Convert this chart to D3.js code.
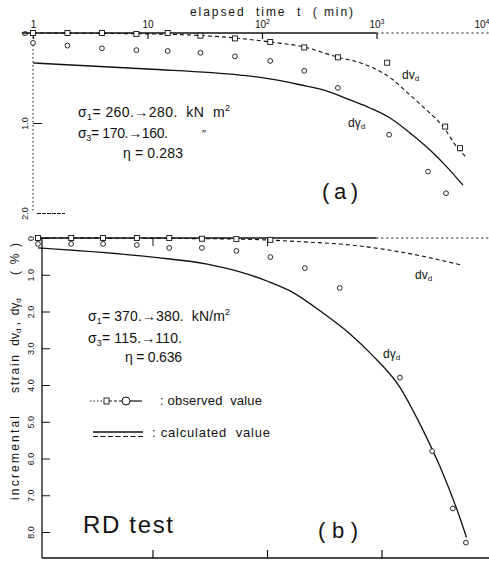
<!DOCTYPE html>
<html>
<head>
<meta charset="utf-8">
<script src="https://cdn.jsdelivr.net/npm/d3@7"></script>
<style>
  body { margin: 0; background: #fff; }
  svg { font-family: "Liberation Sans", Arial, sans-serif; }
  text { white-space: pre; fill: #111; }
</style>
</head>
<body>
<div id="chart"></div>
<script>
// ---- values (time in min, strain in %) ----

// panel (a)  sigma1 260 -> 280, sigma3 170 -> 160
var obsVolTimeA = [1, 2, 4, 8, 15, 29, 58, 118, 234, 460, 1240, 3980, 5370];
var obsVolA     = [0, 0, 0, 0.01, 0, 0.03, 0.06, 0.10, 0.16, 0.27, 0.33, 1.04, 1.28];
var obsShearTimeA = [1, 2, 4, 8, 15, 29, 58, 118, 234, 460, 1290, 2820, 4050];
var obsShearA     = [0.11, 0.14, 0.17, 0.19, 0.20, 0.22, 0.26, 0.31, 0.42, 0.61, 1.13, 1.54, 1.78];
var calcShearTimeA = [1, 10, 64, 100, 215, 393, 587, 878, 1312, 1963, 2933, 4128, 5690];
var calcShearA     = [0.333, 0.40, 0.467, 0.495, 0.575, 0.656, 0.744, 0.833, 0.944, 1.11, 1.30, 1.49, 1.69];
var calcVolTimeA = [1, 10, 58, 118, 234, 461, 720, 1393, 1963, 2763, 3810, 5050, 6170];
var calcVolA     = [0, 0.01, 0.055, 0.10, 0.155, 0.27, 0.33, 0.52, 0.69, 0.86, 1.04, 1.27, 1.39];

// panel (b)  sigma1 370 -> 380, sigma3 115 -> 110
var obsVolTimeB = [1, 1.95, 3.7, 7.3, 14, 27, 54, 107];
var obsVolB     = [0, 0, 0, 0, 0, 0.02, 0.03, 0.05];
var obsShearTimeB = [1, 1.95, 3.7, 7.3, 14, 27, 54, 107, 214, 432, 1450, 2770, 4200, 5460];
var obsShearB     = [0.16, 0.16, 0.16, 0.19, 0.27, 0.27, 0.35, 0.52, 0.82, 1.36, 3.80, 5.80, 7.36, 8.29];
var calcShearTimeB = [1, 10, 30, 58, 100, 159, 308, 531, 826, 1440, 2140, 3240, 4560, 5530];
var calcShearB     = [0.27, 0.52, 0.71, 0.92, 1.17, 1.44, 2.04, 2.61, 3.18, 4.05, 5.03, 6.22, 7.39, 8.15];
var calcVolTimeB = [1, 10, 58, 195, 530, 1660, 4870];
var calcVolB     = [0, 0.01, 0.03, 0.10, 0.19, 0.41, 0.73];

// tick labels
var timeTicks = [1, 10, 100, 1000, 10000];
var strainTicksA = [0, 1, 2];
var strainTicksB = [0, 1, 2, 3, 4, 5, 6, 7, 8];

var width = 489, height = 571;
var ink = "#111";

var svg = d3.select("#chart").append("svg")
    .attr("width", width)
    .attr("height", height);

// set the ranges: log time, about 114 px per decade
var xa = d3.scaleLog().domain([1, 1e4]).range([33, 491]);
var xb = d3.scaleLog().domain([1, 1e4]).range([38, 496]);
var ya = d3.scaleLinear().domain([0, 2]).range([33, 213]);
var yb = d3.scaleLinear().domain([0, 8]).range([238, 532]);

function lineFor(x, y) {
  return d3.line()
      .x(function(d) { return x(d[0]); })
      .y(function(d) { return y(d[1]); })
      .curve(d3.curveMonotoneX);
}

// ---------------- panel (a) axes ----------------
// top time axis, ticks pointing down
var topAxis = svg.append("g")
    .attr("transform", "translate(0,33)")
    .call(d3.axisTop(xa).tickValues(timeTicks).tickSize(-6).tickSizeOuter(0).tickPadding(5).tickFormat(""));
topAxis.select(".domain").remove();
topAxis.selectAll("line").attr("stroke", ink).attr("stroke-width", 1.2);
topAxis.selectAll("text")
    .attr("font-size", 10)
    .each(function(d) {
      var t = d3.select(this);
      var p = Math.round(Math.log10(d));
      if (p <= 1) { t.text(d); return; }
      t.append("tspan").text("10");
      t.append("tspan").attr("font-size", 7).attr("dy", -4).text(p);
      // last label sits against the right edge
      if (p === 4) t.attr("x", -2).style("text-anchor", "end");
    });

svg.append("line")
    .attr("x1", xa(0.8)).attr("x2", xa(1000))
    .attr("y1", ya(0)).attr("y2", ya(0))
    .attr("stroke", ink).attr("stroke-width", 1.3);
svg.append("line")
    .attr("x1", xa(1000)).attr("x2", xa(1e4))
    .attr("y1", ya(0)).attr("y2", ya(0))
    .attr("stroke", ink).attr("stroke-width", 1).attr("stroke-dasharray", "2,3");

// title of the time axis
svg.append("text")
    .attr("x", 190).attr("y", 16)
    .attr("font-size", 12)
    .attr("textLength", 163).attr("lengthAdjust", "spacing")
    .text("elapsed  time  t  ( min)");

// left strain axis of (a), dotted
svg.append("line")
    .attr("x1", xa(1)).attr("x2", xa(1))
    .attr("y1", ya(0)).attr("y2", ya(2))
    .attr("stroke", ink).attr("stroke-width", 1).attr("stroke-dasharray", "1.5,2.5");
var leftA = svg.append("g")
    .attr("transform", "translate(" + xa(1) + ",0)")
    .call(d3.axisLeft(ya).tickValues(strainTicksA).tickSize(-9).tickSizeOuter(0)
      .tickFormat(function(d) { return d === 0 ? "0" : d3.format(".1f")(d); }));
leftA.select(".domain").remove();
leftA.selectAll("line").attr("stroke", ink).attr("stroke-width", 1)
    .filter(function(d) { return d === 0; }).remove();
leftA.selectAll(".tick").filter(function(d) { return d === 2; }).select("line")
    .attr("x1", 4).attr("x2", 32).attr("stroke-dasharray", "4,1");
leftA.selectAll("text")
    .attr("font-size", 9)
    .attr("transform", "rotate(-90)")
    .attr("x", 0).attr("y", -5).attr("dy", 0)
    .style("text-anchor", "middle");

// ---------------- panel (a) marks ----------------
svg.append("path")
    .datum(d3.zip(calcVolTimeA, calcVolA))
    .attr("fill", "none").attr("stroke", ink).attr("stroke-width", 1.1)
    .attr("stroke-dasharray", "4,3")
    .attr("d", lineFor(xa, ya));
svg.append("path")
    .datum(d3.zip(calcShearTimeA, calcShearA))
    .attr("fill", "none").attr("stroke", ink).attr("stroke-width", 1.3)
    .attr("d", lineFor(xa, ya));

svg.selectAll(".sqA")
    .data(d3.zip(obsVolTimeA, obsVolA))
  .enter().append("rect")
    .attr("class", "sqA")
    .attr("x", function(d) { return xa(d[0]) - 2.5; })
    .attr("y", function(d) { return ya(d[1]) - 2.5; })
    .attr("width", 5).attr("height", 5)
    .attr("fill", "#fff").attr("stroke", ink).attr("stroke-width", 0.9);
svg.selectAll(".ciA")
    .data(d3.zip(obsShearTimeA, obsShearA))
  .enter().append("circle")
    .attr("class", "ciA")
    .attr("cx", function(d) { return xa(d[0]); })
    .attr("cy", function(d) { return ya(d[1]); })
    .attr("r", 2.4)
    .attr("fill", "#fff").attr("stroke", ink).attr("stroke-width", 0.9);

// ---------------- panel (b) axes ----------------
var axisXb = 42;
svg.append("line")
    .attr("x1", xb(1)).attr("x2", xb(900))
    .attr("y1", yb(0)).attr("y2", yb(0))
    .attr("stroke", ink).attr("stroke-width", 1.3);
svg.append("line")
    .attr("x1", xb(900)).attr("x2", xb(9000))
    .attr("y1", yb(0)).attr("y2", yb(0))
    .attr("stroke", ink).attr("stroke-width", 1).attr("stroke-dasharray", "2,3");
var topB = svg.append("g")
    .attr("transform", "translate(0," + yb(0) + ")")
    .call(d3.axisTop(xb).tickValues([10, 100]).tickSize(-8).tickSizeOuter(0).tickFormat(""));
topB.select(".domain").remove();
topB.selectAll("line").attr("stroke", ink).attr("stroke-width", 1);

var bottomB = svg.append("g")
    .attr("transform", "translate(0,558)")
    .call(d3.axisBottom(xb).tickValues([10, 100, 1000]).tickSize(-8).tickSizeOuter(0).tickFormat(""));
bottomB.select(".domain").remove();
bottomB.selectAll("line").attr("stroke", ink).attr("stroke-width", 1.2);
svg.append("line")
    .attr("x1", axisXb).attr("x2", 489)
    .attr("y1", 558).attr("y2", 558)
    .attr("stroke", ink).attr("stroke-width", 1.4);

var leftB = svg.append("g")
    .attr("transform", "translate(" + axisXb + ",0)")
    .call(d3.axisLeft(yb).tickValues(strainTicksB).tickSize(-8).tickSizeOuter(0)
      .tickFormat(function(d) { return d === 0 ? "0" : d3.format(".1f")(d); }));
leftB.select(".domain").remove();
leftB.selectAll("line").attr("stroke", ink).attr("stroke-width", 1);
leftB.selectAll("text")
    .attr("font-size", 9)
    .attr("transform", "rotate(-90)")
    .attr("x", 0).attr("y", -8).attr("dy", 0)
    .style("text-anchor", "middle");
svg.append("line")
    .attr("x1", axisXb).attr("x2", axisXb)
    .attr("y1", yb(0)).attr("y2", 558)
    .attr("stroke", ink).attr("stroke-width", 1.3);

// y title of (b), rotated pieces
function vText(cy, len, build) {
  var t = svg.append("text")
      .attr("transform", "translate(19," + cy + ") rotate(-90)")
      .attr("font-size", 12)
      .attr("text-anchor", "middle");
  build(t);
  if (len) t.attr("textLength", len).attr("lengthAdjust", "spacing");
  return t;
}
vText(458, 84, function(t) { t.text("incremental"); });
vText(374, 38, function(t) { t.text("strain"); });
vText(322, 0, function(t) {
  t.append("tspan").text("dv");
  t.append("tspan").attr("font-size", 8).attr("dy", 2).text("d");
  t.append("tspan").attr("dy", -2).text(" ,  dγ");
  t.append("tspan").attr("font-size", 8).attr("dy", 2).text("d");
});
vText(259, 32, function(t) { t.text("( % )"); });

// ---------------- panel (b) marks ----------------
svg.append("path")
    .datum(d3.zip(calcVolTimeB, calcVolB))
    .attr("fill", "none").attr("stroke", ink).attr("stroke-width", 1.1)
    .attr("stroke-dasharray", "4,3")
    .attr("d", lineFor(xb, yb));
svg.append("path")
    .datum(d3.zip(calcShearTimeB, calcShearB))
    .attr("fill", "none").attr("stroke", ink).attr("stroke-width", 1.3)
    .attr("d", lineFor(xb, yb));

svg.selectAll(".sqB")
    .data(d3.zip(obsVolTimeB, obsVolB))
  .enter().append("rect")
    .attr("class", "sqB")
    .attr("x", function(d) { return xb(d[0]) - 2.5; })
    .attr("y", function(d) { return yb(d[1]) - 2.5; })
    .attr("width", 5).attr("height", 5)
    .attr("fill", "#fff").attr("stroke", ink).attr("stroke-width", 0.9);
svg.selectAll(".ciB")
    .data(d3.zip(obsShearTimeB, obsShearB))
  .enter().append("circle")
    .attr("class", "ciB")
    .attr("cx", function(d) { return xb(d[0]); })
    .attr("cy", function(d) { return yb(d[1]); })
    .attr("r", 2.4)
    .attr("fill", "#fff").attr("stroke", ink).attr("stroke-width", 0.9);

// ---------------- annotations ----------------
function label(x, y, size, parts, len) {
  var t = svg.append("text").attr("x", x).attr("y", y).attr("font-size", size);
  parts(t);
  if (len) t.attr("textLength", len).attr("lengthAdjust", "spacing");
  return t;
}

// stress conditions (a)
label(78, 117, 14, function(t) {
  t.append("tspan").text("σ");
  t.append("tspan").attr("font-size", 9).attr("dy", 3).text("1");
  t.append("tspan").attr("dy", -3).text("= 260.→280.  kN  m");
  t.append("tspan").attr("font-size", 9).attr("dy", -6).text("2");
}, 152);
label(78, 138, 14, function(t) {
  t.append("tspan").text("σ");
  t.append("tspan").attr("font-size", 9).attr("dy", 3).text("3");
  t.append("tspan").attr("dy", -3).text("= 170.→160.");
}, 90);
label(202, 138, 11, function(t) { t.text("″"); });
label(123, 158, 14, function(t) { t.text("η = 0.283"); }, 60);

// curve names (a)
label(402, 79, 12, function(t) {
  t.append("tspan").text("dv");
  t.append("tspan").attr("font-size", 8).attr("dy", 2).text("d");
});
label(348, 127, 12, function(t) {
  t.append("tspan").text("dγ");
  t.append("tspan").attr("font-size", 8).attr("dy", 2).text("d");
});
label(322, 199, 22, function(t) { t.text("(a)"); }, 36);

// stress conditions (b)
label(88, 321, 14, function(t) {
  t.append("tspan").text("σ");
  t.append("tspan").attr("font-size", 9).attr("dy", 3).text("1");
  t.append("tspan").attr("dy", -3).text("= 370.→380.  kN/m");
  t.append("tspan").attr("font-size", 9).attr("dy", -6).text("2");
}, 142);
label(88, 343, 14, function(t) {
  t.append("tspan").text("σ");
  t.append("tspan").attr("font-size", 9).attr("dy", 3).text("3");
  t.append("tspan").attr("dy", -3).text("= 115.→110.");
}, 94);
label(125, 362, 14, function(t) { t.text("η = 0.636"); }, 57);

// curve names (b)
label(415, 279, 12, function(t) {
  t.append("tspan").text("dv");
  t.append("tspan").attr("font-size", 8).attr("dy", 2).text("d");
});
label(383, 358, 12, function(t) {
  t.append("tspan").text("dγ");
  t.append("tspan").attr("font-size", 8).attr("dy", 2).text("d");
});

// legend
var lg = svg.append("g");
lg.append("line").attr("x1", 90).attr("x2", 104).attr("y1", 401).attr("y2", 401)
    .attr("stroke", ink).attr("stroke-dasharray", "1.5,2");
lg.append("line").attr("x1", 109).attr("x2", 122).attr("y1", 401).attr("y2", 401)
    .attr("stroke", ink).attr("stroke-dasharray", "3,2");
lg.append("line").attr("x1", 130).attr("x2", 142).attr("y1", 401).attr("y2", 401)
    .attr("stroke", ink).attr("stroke-width", 1.2);
lg.append("rect").attr("x", 104).attr("y", 398).attr("width", 5).attr("height", 6)
    .attr("fill", "#fff").attr("stroke", ink).attr("stroke-width", 0.9);
lg.append("circle").attr("cx", 126).attr("cy", 401).attr("r", 4)
    .attr("fill", "#fff").attr("stroke", ink).attr("stroke-width", 1);
label(160, 405, 13, function(t) { t.text(": observed  value"); }, 102);
lg.append("line").attr("x1", 93).attr("x2", 143).attr("y1", 432).attr("y2", 432)
    .attr("stroke", ink).attr("stroke-width", 1.6);
lg.append("line").attr("x1", 93).attr("x2", 143).attr("y1", 436.5).attr("y2", 436.5)
    .attr("stroke", ink).attr("stroke-width", 1.2).attr("stroke-dasharray", "5,2.5");
label(152, 437, 13, function(t) { t.text(": calculated  value"); }, 118);

label(83, 533, 24, function(t) { t.text("RD test"); }, 90);
label(318, 538, 22, function(t) { t.text("( b )"); }, 40);
</script>
</body>
</html>
